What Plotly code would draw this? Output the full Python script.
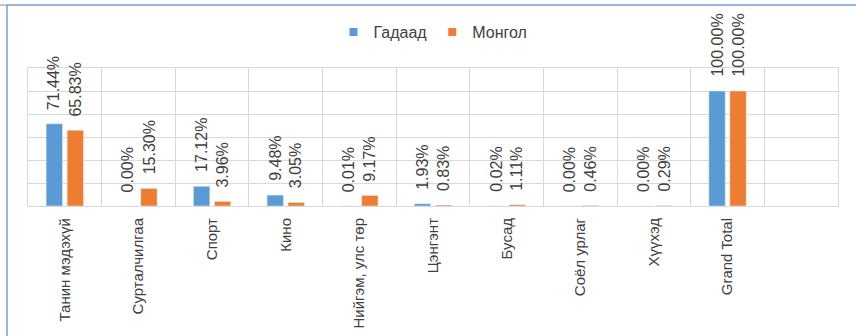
import plotly.graph_objects as go

# Category share of viewing, foreign vs Mongolian content (%)
categories = ["Танин мэдэхүй", "Сурталчилгаа", "Спорт", "Кино", "Нийгэм, улс төр",
              "Цэнгэнт", "Бусад", "Соёл урлаг", "Хүүхэд", "Grand Total", " "]
gadaad = [71.44, 0.00, 17.12, 9.48, 0.01, 1.93, 0.02, 0.00, 0.00, 100.00, None]
mongol = [65.83, 15.30, 3.96, 3.05, 9.17, 0.83, 1.11, 0.46, 0.29, 100.00, None]
series_names = ["Гадаад", "Монгол"]
colors = ["#5B9BD5", "#ED7D31"]

W, H = 856, 336
L, R, T, B = 28, 18, 68, 130
PW, PH = W - L - R, H - T - B
FONT = "Liberation Sans, Arial, sans-serif"
TXT = "#404040"
GRID = "#D9D9D9"

fig = go.Figure()
for name, vals, col in zip(series_names, [gadaad, mongol], colors):
    fig.add_trace(go.Bar(x=categories, y=vals, name=name, marker_color=col,
                         showlegend=False, legendgroup=name))
# small square legend keys
for name, col in zip(series_names, colors):
    fig.add_trace(go.Scatter(x=[None], y=[None], mode="markers", name=name,
                             legendgroup=name,
                             marker=dict(symbol="square", size=8, color=col)))

# value labels above each bar, rotated
cat_w = PW / len(categories)
offset = cat_w * (1 - 0.43) / 4
annotations = []
for sign, vals in zip([-1, 1], [gadaad, mongol]):
    for c, v in zip(categories, vals):
        if v is None:
            continue
        annotations.append(dict(
            x=c, y=v, xref="x", yref="y", text=f"{v:.2f}%", showarrow=False,
            textangle=-90, xanchor="center", yanchor="bottom",
            xshift=sign * offset, yshift=12,
            font=dict(family=FONT, size=16, color=TXT)))


def px_x(p):
    return (p - L) / PW


def px_y(p):
    return 1 - (p - T) / PH


shapes = [
    dict(type="line", xref="paper", yref="paper", x0=px_x(7), x1=px_x(7),
         y0=px_y(5), y1=px_y(H), line=dict(color="#6FA0D8", width=1.5)),
    dict(type="line", xref="paper", yref="paper", x0=px_x(7), x1=px_x(W),
         y0=px_y(5), y1=px_y(5), line=dict(color="#6FA0D8", width=1.5)),
    dict(type="line", xref="paper", yref="paper", x0=px_x(0), x1=px_x(7),
         y0=px_y(5), y1=px_y(5), line=dict(color="#8C8C8C", width=1)),
]

fig.update_layout(
    width=W, height=H,
    margin=dict(l=L, r=R, t=T, b=B, pad=0, autoexpand=False),
    paper_bgcolor="white", plot_bgcolor="white",
    barmode="group", bargap=0.43, bargroupgap=0.22,
    font=dict(family=FONT, color=TXT),
    showlegend=True,
    legend=dict(orientation="h", x=0.5, xanchor="center", y=px_y(32), yanchor="middle",
                font=dict(family=FONT, size=16, color=TXT), itemwidth=30,
                bgcolor="rgba(0,0,0,0)"),
    annotations=annotations,
    shapes=shapes,
    xaxis=dict(type="category", categoryorder="array", categoryarray=categories,
               range=[-0.5, len(categories) - 0.5], tickson="boundaries",
               showgrid=True, gridcolor=GRID, gridwidth=1, ticks="",
               showline=True, linecolor=GRID, linewidth=1, mirror=True,
               tickangle=-90, tickfont=dict(family=FONT, size=15, color=TXT),
               ticklabelstandoff=5, automargin=False, zeroline=False),
    yaxis=dict(range=[0, 120], dtick=20, showticklabels=False, ticks="",
               showgrid=True, gridcolor=GRID, gridwidth=1,
               showline=True, linecolor=GRID, linewidth=1, mirror=True,
               automargin=False, zeroline=False),
)

fig.write_html("out.html")
